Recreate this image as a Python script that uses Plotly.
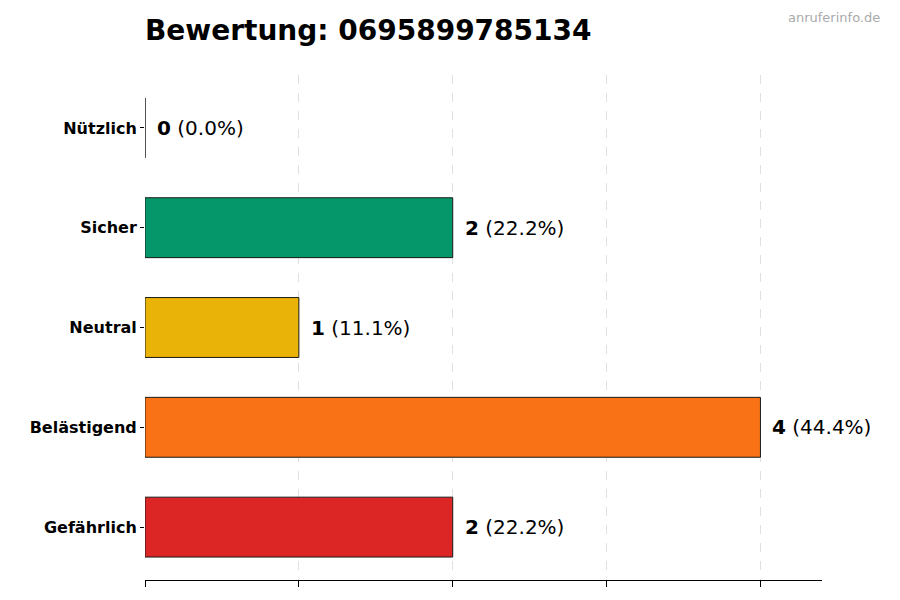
import plotly.graph_objects as go

categories = ["Nützlich", "Sicher", "Neutral", "Belästigend", "Gefährlich"]
values = [0, 2, 1, 4, 2]
colors = ["#6b7280", "#059669", "#EAB308", "#F97316", "#DC2626"]
total = sum(values)

fig = go.Figure(go.Bar(
    y=categories, x=values, orientation="h", width=0.6,
    marker=dict(color=colors, line=dict(color="#1a1a1a", width=1)),
    hoverinfo="skip"))

for c, v in zip(categories, values):
    fig.add_annotation(x=v, y=c, xref="x", yref="y", xanchor="left", xshift=10,
                       text=f"<b>{v}</b> ({v/total*100:.1f}%)", showarrow=False,
                       font=dict(size=20, color="black", family="DejaVu Sans"))

fig.add_annotation(xref="paper", yref="paper", x=1.0, y=1.0, xanchor="right", yanchor="bottom",
                   text="anruferinfo.de", showarrow=False, yshift=48, xshift=60,
                   font=dict(size=13, color="#aaaaaa", family="DejaVu Sans"))

fig.update_layout(
    width=900, height=600, plot_bgcolor="white", paper_bgcolor="white",
    margin=dict(l=137, r=86, t=67, b=28),
    title=dict(text="<b>Bewertung: 0695899785134</b>", x=137/900, xanchor="left",
               y=0.963, yanchor="middle", font=dict(size=28, color="black", family="DejaVu Sans")),
    xaxis=dict(range=[0, 4.4], tickvals=[0, 1, 2, 3, 4], showticklabels=False,
               ticks="outside", ticklen=6, tickcolor="black", showline=True, linecolor="black",
               showgrid=True, gridcolor="#e0e0e0", griddash="dash", zeroline=False),
    yaxis=dict(categoryorder="array", categoryarray=categories[::-1], range=[-0.53, 4.53],
               ticks="outside", ticklen=4, tickcolor="black", showline=False, showgrid=False,
               tickfont=dict(size=16, color="black", family="DejaVu Sans", weight="bold")),
    showlegend=False, bargap=0.4,
)
fig.write_html("out.html")
